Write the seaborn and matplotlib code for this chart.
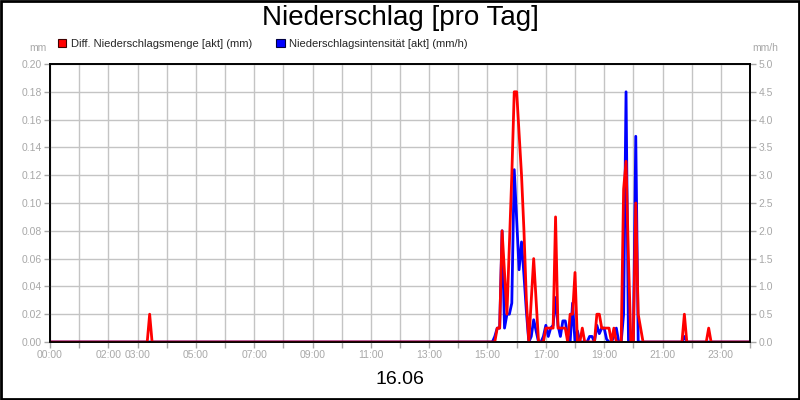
import matplotlib
matplotlib.use("Agg")
import matplotlib.pyplot as plt
from matplotlib.patches import Rectangle, Patch
import seaborn as sns
import pandas as pd
import numpy as np

# ---------------- data (5-minute readings) ----------------
title = "Niederschlag [pro Tag]"
date_label = "16.06"
red_label = "Diff. Niederschlagsmenge [akt] (mm)"
blue_label = "Niederschlagsintensität [akt] (mm/h)"

# active block 15:10 .. 20:25, one value every 5 minutes
block_start = "15:10"
red_block = [0, 0, 0.01, 0.01, 0.08, 0.05, 0.02, 0.07, 0.12, 0.18,
             0.18, 0.15, 0.12, 0.08, 0.03, 0, 0.03, 0.06, 0.03, 0,
             0, 0, 0.01, 0.01, 0.01, 0.01, 0.09, 0.01, 0.01, 0.01,
             0.01, 0, 0.02, 0.02, 0.05, 0, 0, 0.01, 0, 0,
             0, 0, 0, 0.02, 0.02, 0.01, 0.01, 0.01, 0.01, 0,
             0.01, 0, 0, 0, 0.11, 0.13, 0.06, 0, 0, 0.10,
             0.02, 0.01, 0, 0]
blue_block = [0, 0.1, 0.25, 0.25, 2.0, 0.25, 0.5, 0.5, 0.7, 3.1,
              2.2, 1.3, 1.8, 1.2, 0.55, 0, 0.1, 0.4, 0.2, 0,
              0, 0.1, 0.3, 0.1, 0.25, 0.3, 0.8, 0.3, 0.1, 0.38,
              0.38, 0.1, 0, 0.7, 0, 0.2, 0, 0, 0, 0,
              0.1, 0.1, 0, 0.3, 0.15, 0.25, 0.25, 0.05, 0, 0,
              0.1, 0.25, 0, 0, 0.5, 4.5, 0, 0, 0, 3.7,
              0, 0, 0, 0]
# isolated readings outside the block
red_extra_times = ["03:25", "21:45", "22:35"]
red_extra_vals = [0.02, 0.02, 0.01]
blue_extra_times = ["21:45"]
blue_extra_vals = [0.1]

xtick_label_hours = [0, 2, 3, 5, 7, 9, 11, 13, 15, 17, 19, 21, 23]


def build(block, extra_t, extra_v):
    day = pd.date_range("2000-01-01 00:00", "2000-01-02 00:00", freq="5min")
    s = pd.Series(0.0, index=day)
    bidx = pd.date_range("2000-01-01 " + block_start, periods=len(block), freq="5min")
    s.loc[bidx] = block
    for t, v in zip(extra_t, extra_v):
        s.loc[pd.Timestamp("2000-01-01 " + t)] = v
    hours = (s.index - day[0]).total_seconds() / 3600.0
    return pd.DataFrame({"t": hours, "v": s.values})


df_red = build(red_block, red_extra_times, red_extra_vals)
df_blue = build(blue_block, blue_extra_times, blue_extra_vals)

# ---------------- styling ----------------
sns.set_theme(style="white")
plt.rcParams["font.family"] = ["Liberation Sans", "DejaVu Sans"]

RED = "#ff0000"
BLUE = "#0000ff"
GRAY = "#a8a8a8"
GRID = "#c4c4c4"

fig = plt.figure(figsize=(8, 4), dpi=100)
fig.patch.set_facecolor("white")
ax = fig.add_axes([0.0625, 0.145, 0.875, 0.695])
ax2 = ax.twinx()
ax.set_zorder(ax2.get_zorder() + 1)
ax.patch.set_visible(False)
ax2.patch.set_visible(True)
ax2.patch.set_facecolor("white")

sns.lineplot(data=df_blue, x="t", y="v", ax=ax2, color=BLUE, linewidth=2.0)
sns.lineplot(data=df_red, x="t", y="v", ax=ax, color=RED, linewidth=2.0)

ax.set_xlim(0, 24)
ax.set_ylim(0, 0.2)
ax2.set_ylim(0, 5.0)

hours = list(range(0, 25))
ax.set_xticks(hours)
ax.set_xticklabels([f"{h:02d}:00" if h in xtick_label_hours else "" for h in hours])
ax.set_yticks(np.arange(0, 0.2001, 0.02))
ax.set_yticklabels([f"{v:.2f}" for v in np.arange(0, 0.2001, 0.02)])
ax2.set_yticks(np.arange(0, 5.001, 0.5))
ax2.set_yticklabels([f"{v:.1f}" for v in np.arange(0, 5.001, 0.5)])

for a in (ax, ax2):
    a.set_xlabel("")
    a.set_ylabel("")
    a.tick_params(axis="both", colors=GRAY, length=4, width=1, labelsize=7.5, pad=2,
                  direction="out")
    for sp in a.spines.values():
        sp.set_color("black")
        sp.set_linewidth(1.2)

ax.tick_params(axis="y", left=True, right=False)
ax.tick_params(axis="x", bottom=True)
ax2.tick_params(axis="y", right=True, left=False)

# grid drawn on the back axes so the data lines stay on top
ax2.xaxis.set_visible(True)
ax2.tick_params(axis="x", bottom=False, top=False, labelbottom=False, labeltop=False)
ax2.grid(True, axis="both", color=GRID, linewidth=1.0)
ax.grid(False)

# axis unit labels
fig.text(47 / 800, 1 - 48 / 400, "mm", ha="right", va="center", fontsize=7.5, color=GRAY)
fig.text(752 / 800, 1 - 48 / 400, "mm/h", ha="left", va="center", fontsize=7.5, color=GRAY)

# title and date
fig.text(0.5, 1 - 18 / 400, title, ha="center", va="center", fontsize=20, color="black")
fig.text(0.5, 1 - 380 / 400, date_label, ha="center", va="center", fontsize=14, color="black")

# legend
handles = [Patch(facecolor=RED, edgecolor="#400000", linewidth=0.8, label=red_label),
           Patch(facecolor=BLUE, edgecolor="#000040", linewidth=0.8, label=blue_label)]
fig.legend(handles=handles, loc="center left", bbox_to_anchor=(58 / 800, 1 - 44 / 400),
           ncol=2, frameon=False, fontsize=8, handlelength=0.75, handleheight=0.75,
           handletextpad=0.4, columnspacing=2.2, borderpad=0, borderaxespad=0)

# outer border
fig.patches.append(Rectangle((0.001, 0.002), 0.998, 0.996, transform=fig.transFigure,
                             fill=False, edgecolor="black", linewidth=2))

fig.savefig("out.png", dpi=100, facecolor="white")
